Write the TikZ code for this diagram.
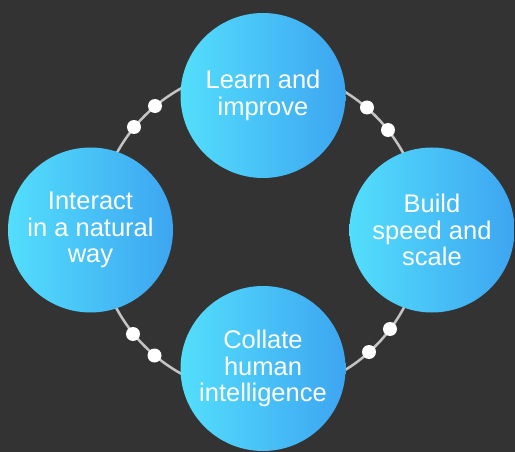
\documentclass[tikz,border=0pt]{standalone}
\usepackage{fontspec}
\setmainfont{Liberation Sans}
\definecolor{bgc}{HTML}{333333}
\definecolor{cyanc}{HTML}{53DEFC}
\definecolor{bluec}{HTML}{3DA5F1}
\definecolor{linec}{HTML}{C4C4C4}
\begin{document}
\begin{tikzpicture}[x=1pt,y=-1pt,
  bubble/.style={circle, minimum size=165pt, inner sep=0pt, left color=cyanc, right color=bluec,
    text=white, align=center, font=\fontsize{25.5}{26.5}\selectfont},
  ring/.style={draw=linec, line width=2.5pt},
  dot/.style={circle, fill=white, minimum size=14pt, inner sep=0pt}]
\fill[bgc] (0,0) rectangle (515,452);
\useasboundingbox (0,0) rectangle (515,452);
\coordinate (c) at (260,231);
\draw[ring] (c) circle[radius=163];
\node[dot] (d1) at (155,106) {};
\node[dot] (d2) at (134,127) {};
\node[dot] (d3) at (367,107.5) {};
\node[dot] (d4) at (388,130) {};
\node[dot] (d5) at (133,334) {};
\node[dot] (d6) at (154.5,355.5) {};
\node[dot] (d7) at (369,352) {};
\node[dot] (d8) at (390,329) {};
\node[bubble] (top) at (263,95.5) {Learn and\\improve};
\node[bubble] (left) at (90.5,230) {Interact\\in a natural\\way};
\node[bubble] (right) at (432,230) {Build\\speed and\\scale};
\node[bubble] (bottom) at (263,368.5) {Collate\\human\\intelligence};
\end{tikzpicture}
\end{document}
